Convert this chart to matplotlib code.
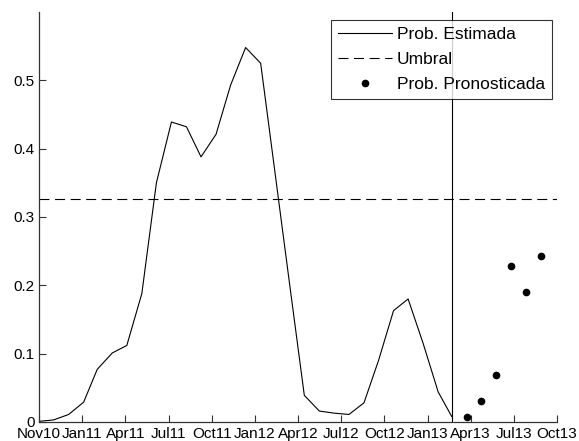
import numpy as np
import pandas as pd
import matplotlib
matplotlib.use("Agg")
import matplotlib.pyplot as plt
import matplotlib.dates as mdates

plt.rcParams["font.family"] = ["Liberation Sans", "DejaVu Sans"]

# ---- data ----
est_dates = pd.date_range("2010-11-01", periods=29, freq="MS")
est_prob = [0.001, 0.003, 0.011, 0.029, 0.077, 0.101, 0.112, 0.188, 0.350,
            0.439, 0.432, 0.388, 0.421, 0.493, 0.548, 0.525, 0.368, 0.200,
            0.039, 0.016, 0.013, 0.011, 0.028, 0.090, 0.163, 0.180, 0.115,
            0.044, 0.008]
fc_dates = pd.date_range("2013-04-01", periods=6, freq="MS")
fc_prob = [0.007, 0.031, 0.069, 0.229, 0.190, 0.243]
umbral = 0.327
x_start = pd.Timestamp("2010-11-01")
x_end = pd.Timestamp("2013-10-04")
yticks = [0, 0.1, 0.2, 0.3, 0.4, 0.5]

fig = plt.figure(figsize=(5.79, 4.41), dpi=100)
ax = fig.add_axes([0.0674, 0.0431, 0.8946, 0.9297])

ax.plot(est_dates, est_prob, color="black", lw=0.8, label="Prob. Estimada")
ax.axhline(umbral, color="black", lw=0.8, dashes=(9, 5), label="Umbral")
ax.plot(fc_dates, fc_prob, "o", color="black", ms=4.5, label="Prob. Pronosticada")
ax.axvline(est_dates[-1], color="black", lw=0.8)

ax.set_xlim(x_start, x_end)
ax.set_ylim(0, 0.6)
ax.set_yticks(yticks)
ax.set_yticklabels([f"{v:g}" for v in yticks])
ticks = np.linspace(mdates.date2num(x_start), mdates.date2num(x_end), 13)
ax.set_xticks(ticks)
ax.xaxis.set_major_formatter(mdates.DateFormatter("%b%y"))

for side in ("top", "right"):
    ax.spines[side].set_visible(False)
for side in ("left", "bottom"):
    ax.spines[side].set_color("#333333")
    ax.spines[side].set_linewidth(0.9)
ax.tick_params(direction="in", length=5, width=0.8, colors="#333333",
               labelcolor="black", labelsize=11)
ax.tick_params(axis="x", pad=3.5)
ax.tick_params(axis="y", pad=3)

leg = ax.legend(loc="upper right", bbox_to_anchor=(0.99, 0.98), fontsize=12.5,
                frameon=True, fancybox=False, edgecolor="black",
                handlelength=3.1, handletextpad=0.3, borderpad=0.4,
                labelspacing=0.55, borderaxespad=0)
leg.get_frame().set_linewidth(0.8)

fig.savefig("out.png", dpi=100)
